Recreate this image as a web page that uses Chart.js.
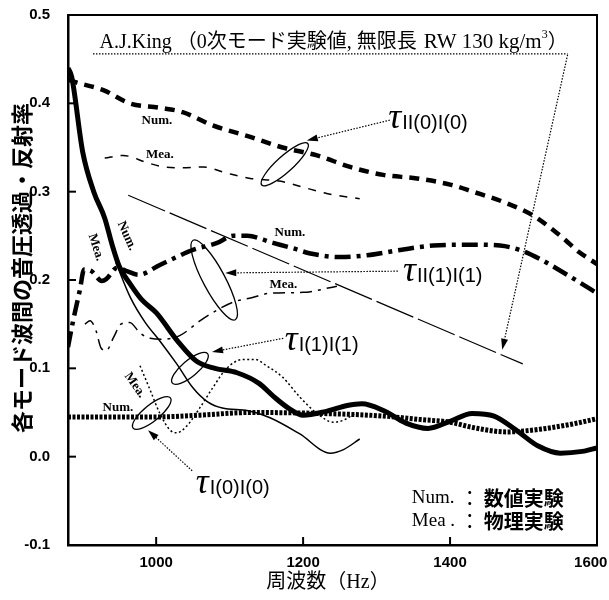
<!DOCTYPE html>
<html><head><meta charset="utf-8">
<script src="https://cdn.jsdelivr.net/npm/chart.js@4.4.1/dist/chart.umd.min.js"></script>
<style>html,body{margin:0;padding:0;background:#fff}#wrap{width:609px;height:600px}</style>
</head><body><div id="wrap"><canvas id="c" width="609" height="600"></canvas></div>
<script>
// ---- tick labels ----
const xTicks = [1000, 1200, 1400, 1600];
const yTicks = [-0.1, 0.0, 0.1, 0.2, 0.3, 0.4, 0.5];

// ---- τII(0)I(0) ----
const numII0_hz  = [880,890,928,964,1005,1036,1077,1128,1172,1219,1264,1309,1355,1400,1431,1477,1513,1553,1575,1600];
const numII0_val = [0.427,0.424,0.415,0.400,0.395,0.390,0.375,0.362,0.350,0.341,0.328,0.319,0.315,0.308,0.300,0.287,0.273,0.248,0.232,0.218];
const meaII0_hz  = [930,955,987,1010,1036,1064,1096,1128,1168,1200,1232,1277];
const meaII0_val = [0.338,0.341,0.333,0.328,0.327,0.328,0.321,0.315,0.312,0.305,0.298,0.292];

// ---- τII(1)I(1) ----
const numII1_hz  = [880,887,896,902,912,926,932,947,960,976,1005,1028,1050,1083,1105,1124,1159,1186,1210,1250,1287,1332,1377,1431,1468,1495,1522,1553,1575,1600];
const numII1_val = [0.124,0.154,0.188,0.212,0.210,0.199,0.201,0.214,0.210,0.206,0.217,0.226,0.234,0.242,0.250,0.250,0.242,0.236,0.230,0.226,0.228,0.234,0.239,0.240,0.239,0.234,0.224,0.209,0.198,0.185];
const meaII1_hz  = [903,910,918,925,932,942,952,964,978,992,1010,1032,1060,1083,1105,1130,1155,1200,1246];
const meaII1_val = [0.150,0.154,0.143,0.123,0.120,0.135,0.150,0.152,0.140,0.134,0.133,0.137,0.154,0.166,0.175,0.180,0.185,0.186,0.193];

// ---- τI(1)I(1) ----
const numI1_hz  = [880,885,900,915,930,940,950,965,980,1000,1030,1055,1080,1110,1140,1160,1180,1200,1230,1260,1280,1310,1340,1370,1400,1430,1460,1490,1520,1550,1580,1600];
const numI1_val = [0.440,0.430,0.345,0.300,0.270,0.240,0.215,0.195,0.178,0.163,0.130,0.108,0.100,0.095,0.083,0.068,0.055,0.047,0.051,0.058,0.060,0.052,0.038,0.032,0.040,0.049,0.046,0.030,0.012,0.004,0.006,0.010];
const meaI1_hz  = [945,965,985,1005,1028,1050,1070,1090,1125,1155,1195,1237,1255,1277];
const meaI1_val = [0.220,0.180,0.152,0.131,0.105,0.078,0.062,0.055,0.052,0.044,0.026,0.004,0.008,0.020];

// ---- τI(0)I(0) ----
const numI0_hz  = [880,950,1000,1060,1128,1219,1309,1360,1400,1431,1477,1522,1567,1600];
const numI0_val = [0.045,0.045,0.045,0.047,0.050,0.049,0.046,0.042,0.039,0.033,0.028,0.031,0.037,0.043];
const meaI0_hz  = [978,992,1005,1019,1028,1042,1060,1077,1096,1118,1135,1150,1172,1196,1219,1241,1254,1273];
const meaI0_val = [0.103,0.075,0.049,0.030,0.027,0.035,0.056,0.078,0.100,0.110,0.110,0.103,0.090,0.067,0.049,0.039,0.041,0.050];

// ---- A.J.King (0次モード実験値) ----
const king_hz  = [962, 1499];
const king_val = [0.296, 0.105];

// ---- annotations (data coordinates) ----
const ellipses = [ // centre hz, value; radii px; angle deg
  {hz:1175, v:0.331, rx:31, ry:8,  a:-42},
  {hz:1079, v:0.200, rx:45, ry:11, a:62},
  {hz:1046, v:0.100, rx:23, ry:8,  a:-40},
  {hz:994,  v:0.0495,rx:24, ry:8,  a:-39}
];
const arrows = [
  {from:[1318,0.381], to:[1205,0.358]},
  {from:[1329,0.210], to:[1094,0.208]},
  {from:[1173,0.134], to:[1076,0.1185]},
  {from:[1049,-0.016], to:[989,0.030]},
  {from:[1560,0.455], to:[1471,0.121]}
];
const underline = {from:[914,0.456], to:[1560,0.456]};
const tauLabels = [
  {sub:'II(0)I(0)', hz:1316, v:0.372},
  {sub:'II(1)I(1)', hz:1336, v:0.199},
  {sub:'I(1)I(1)',  hz:1175, v:0.121},
  {sub:'I(0)I(0)',  hz:1054, v:-0.041}
];
const smallLabels = [
  {t:'Num.', hz:1001, v:0.380, r:0},
  {t:'Mea.', hz:1005, v:0.342, r:0},
  {t:'Num.', hz:1182, v:0.254, r:0},
  {t:'Mea.', hz:1173, v:0.195, r:0},
  {t:'Num.', hz:960,  v:0.250, r:66},
  {t:'Mea.', hz:918,  v:0.237, r:72},
  {t:'Mea.', hz:971,  v:0.081, r:55},
  {t:'Num.', hz:948,  v:0.055, r:0}
];
const titleParts = ['A.J.King ', '（0次モード実験値, 無限長 ', 'RW 130 kg/m', '3', '）'];
const legendRows = [['Num.', '：', '数値実験'], ['Mea .', '：', '物理実験']];
const xTitle = '周波数（Hz）';
const yTitle = '各モード波間の音圧透過・反射率';

const pts = (h, v) => h.map((x, i) => ({x, y: v[i]}));
function ds(h, v, w, dash) {
  return {data: pts(h, v), borderColor:'#000', borderWidth:w, borderDash:dash,
          pointRadius:0, fill:false, cubicInterpolationMode:'monotone', borderCapStyle:'butt', borderJoinStyle:'round'};
}

const SERIF = '"Liberation Serif", "Noto Sans CJK JP", serif';
const CJK = '"Noto Sans CJK JP", sans-serif';

const annot = {
  id:'annot',
  afterDraw(chart){
    const {ctx, chartArea:ca, scales:{x, y}} = chart;
    const X = v => x.getPixelForValue(v), Y = v => y.getPixelForValue(v);
    ctx.save();
    ctx.strokeStyle = '#000'; ctx.fillStyle = '#000';
    // frame top/right
    ctx.lineWidth = 2; ctx.setLineDash([]);
    ctx.beginPath(); ctx.moveTo(ca.left, ca.top); ctx.lineTo(ca.right, ca.top); ctx.lineTo(ca.right, ca.bottom); ctx.stroke();
    // inward ticks
    xTicks.forEach(t => { ctx.beginPath(); ctx.moveTo(X(t), ca.bottom); ctx.lineTo(X(t), ca.bottom - 8); ctx.stroke(); });
    yTicks.forEach(t => { ctx.beginPath(); ctx.moveTo(ca.left, Y(t)); ctx.lineTo(ca.left + 8, Y(t)); ctx.stroke(); });
    // ellipses
    ctx.lineWidth = 1.3;
    ellipses.forEach(e => { ctx.beginPath(); ctx.ellipse(X(e.hz), Y(e.v), e.rx, e.ry, e.a*Math.PI/180, 0, Math.PI*2); ctx.stroke(); });
    // dotted underline
    ctx.lineWidth = 1.2; ctx.setLineDash([1.5, 1.5]);
    ctx.beginPath(); ctx.moveTo(X(underline.from[0]), Y(underline.from[1])); ctx.lineTo(X(underline.to[0]), Y(underline.to[1])); ctx.stroke();
    // arrows
    arrows.forEach(a => {
      const x0 = X(a.from[0]), y0 = Y(a.from[1]), x1 = X(a.to[0]), y1 = Y(a.to[1]);
      const ang = Math.atan2(y1 - y0, x1 - x0);
      ctx.setLineDash([1.5, 1.5]); ctx.lineWidth = 1.2;
      ctx.beginPath(); ctx.moveTo(x0, y0); ctx.lineTo(x1 - 8*Math.cos(ang), y1 - 8*Math.sin(ang)); ctx.stroke();
      ctx.setLineDash([]);
      ctx.beginPath(); ctx.moveTo(x1, y1);
      ctx.lineTo(x1 - 11*Math.cos(ang) + 3.5*Math.sin(ang), y1 - 11*Math.sin(ang) - 3.5*Math.cos(ang));
      ctx.lineTo(x1 - 11*Math.cos(ang) - 3.5*Math.sin(ang), y1 - 11*Math.sin(ang) + 3.5*Math.cos(ang));
      ctx.closePath(); ctx.fill();
    });
    ctx.setLineDash([]);
    // tau labels
    ctx.textBaseline = 'alphabetic'; ctx.textAlign = 'left';
    tauLabels.forEach(l => {
      const px = X(l.hz), py = Y(l.v);
      ctx.font = 'italic 36px "Liberation Serif", serif';
      ctx.fillText('τ', px, py);
      const w = ctx.measureText('τ').width;
      ctx.font = '20px "Liberation Sans", sans-serif';
      ctx.fillText(l.sub, px + w + 1, py + 1);
    });
    // small labels
    ctx.font = 'bold 13px "Liberation Serif", serif';
    ctx.textAlign = 'center'; ctx.textBaseline = 'middle';
    smallLabels.forEach(l => {
      ctx.save(); ctx.translate(X(l.hz), Y(l.v)); ctx.rotate(l.r*Math.PI/180); ctx.fillText(l.t, 0, 0); ctx.restore();
    });
    // title (drawn piece by piece)
    ctx.textAlign = 'left'; ctx.textBaseline = 'alphabetic';
    let tx = X(923); const ty = Y(0.471) + 7;
    const tf = ['20px ' + SERIF, '20px ' + SERIF, '21px ' + SERIF, '12px ' + SERIF, '20px ' + SERIF];
    const tdy = [0, 0, 0, -10, 0];
    titleParts.forEach((p, i) => { ctx.font = tf[i]; ctx.fillText(p, tx, ty + tdy[i]); tx += ctx.measureText(p).width + (i === 1 ? 2 : 0); });
    // legend note
    ctx.textBaseline = 'middle';
    legendRows.forEach((row, r) => {
      const lx = X(1348), ly = Y(r === 0 ? -0.047 : -0.073);
      ctx.font = '19px "Liberation Serif", serif'; ctx.fillText(row[0], lx, ly);
      ctx.font = '20px ' + CJK; ctx.fillText(row[1], lx + 48, ly);
      ctx.font = 'bold 20px ' + CJK; ctx.fillText(row[2], lx + 72, ly);
    });
    // axis titles
    ctx.font = '20px ' + SERIF;
    ctx.textAlign = 'center';
    ctx.fillText(xTitle, 328, 583);
    ctx.save(); ctx.translate(22, 268); ctx.rotate(-Math.PI/2);
    ctx.font = 'bold 22px ' + CJK;
    ctx.fillText(yTitle, 0, 0); ctx.restore();
    ctx.restore();
  }
};

new Chart(document.getElementById('c'), {
  type:'line',
  data:{datasets:[
    ds(numII0_hz, numII0_val, 4.5, [10,7]),
    ds(meaII0_hz, meaII0_val, 1.5, [8,8]),
    ds(numII1_hz, numII1_val, 4.5, [16,6,4,6]),
    ds(meaII1_hz, meaII1_val, 1.5, [12,6,3,6]),
    ds(numI1_hz, numI1_val, 5, []),
    ds(meaI1_hz, meaI1_val, 1.5, []),
    ds(numI0_hz, numI0_val, 5, [3,1.5]),
    ds(meaI0_hz, meaI0_val, 1.5, [2,2.5]),
    Object.assign(ds(king_hz, king_val, 1.2, [40,5]), {cubicInterpolationMode:'default', tension:0})
  ]},
  options:{
    responsive:false, animation:false, devicePixelRatio:1, events:[],
    layout:{padding:{left:0, right:12, top:15, bottom:0}},
    plugins:{legend:{display:false}, tooltip:{enabled:false}},
    scales:{
      x:{type:'linear', min:880, max:1600,
        afterBuildTicks:s => { s.ticks = xTicks.map(v => ({value:v})); },
        grid:{display:false}, border:{display:true, width:2.5, color:'#000'},
        ticks:{color:'#000', font:{family:'"Liberation Sans", sans-serif', size:15, weight:'bold'}, padding:1, maxRotation:0, autoSkip:false,
               callback:v => v === xTicks[xTicks.length - 1] ? String(v) + '   ' : String(v)},
        afterFit:s => { s.height = 55; s.paddingLeft = 0; s.paddingRight = 0; }
      },
      y:{type:'linear', min:-0.1, max:0.5,
        afterBuildTicks:s => { s.ticks = yTicks.map(v => ({value:v})); },
        grid:{display:false}, border:{display:true, width:2.5, color:'#000'},
        ticks:{color:'#000', font:{family:'"Liberation Sans", sans-serif', size:15, weight:'bold'}, padding:10, callback:v => Number(v).toFixed(1)},
        afterFit:s => { s.width = 68; s.paddingTop = 0; s.paddingBottom = 0; }
      }
    }
  },
  plugins:[annot]
});
</script></body></html>
